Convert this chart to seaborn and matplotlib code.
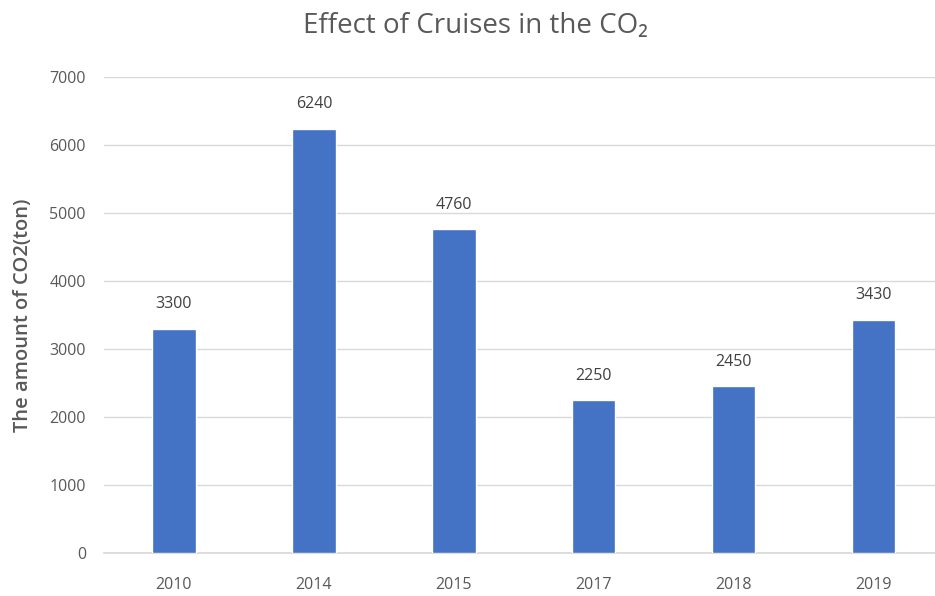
import matplotlib
matplotlib.use("Agg")
import matplotlib.pyplot as plt
import seaborn as sns
import pandas as pd

years = ["2010", "2014", "2015", "2017", "2018", "2019"]
co2_tons = [3300, 6240, 4760, 2250, 2450, 3430]
y_ticks = [0, 1000, 2000, 3000, 4000, 5000, 6000, 7000]

sns.set_theme(style="white")
plt.rcParams["font.family"] = ["Open Sans", "DejaVu Sans"]

df = pd.DataFrame({"year": years, "co2": co2_tons})

fig = plt.figure(figsize=(9.35, 5.96), dpi=100)
ax = fig.add_axes([0.1112, 0.072, 0.898, 0.799])

sns.barplot(data=df, x="year", y="co2", color="#4472C4", width=0.31,
            saturation=1, ax=ax, zorder=3)

text_gray = "#595959"
ax.set_ylim(0, 7000)
ax.set_yticks(y_ticks)
ax.set_yticklabels([str(t) for t in y_ticks])
ax.yaxis.grid(True, color="#D9D9D9", linewidth=1, zorder=0)
ax.set_axisbelow(True)
for s in ["top", "right", "left"]:
    ax.spines[s].set_visible(False)
ax.spines["bottom"].set_color("#D9D9D9")
ax.tick_params(axis="both", length=0, labelsize=11.5, labelcolor=text_gray)
ax.tick_params(axis="y", pad=13)
ax.tick_params(axis="x", pad=17)

for p, v in zip(ax.patches, co2_tons):
    ax.text(p.get_x() + p.get_width() / 2, v + 360, str(v), ha="center",
            va="center", fontsize=11.5, color="#404040")

ax.set_xlabel("")
ax.set_ylabel("The amount of CO2(ton)", fontsize=14.5, color=text_gray,
              fontweight="semibold", labelpad=12)
fig.text(0.509, 0.957, "Effect of Cruises in the CO\u2082", ha="center",
         va="center", fontsize=20, color=text_gray)

fig.savefig("out.png", dpi=100)
